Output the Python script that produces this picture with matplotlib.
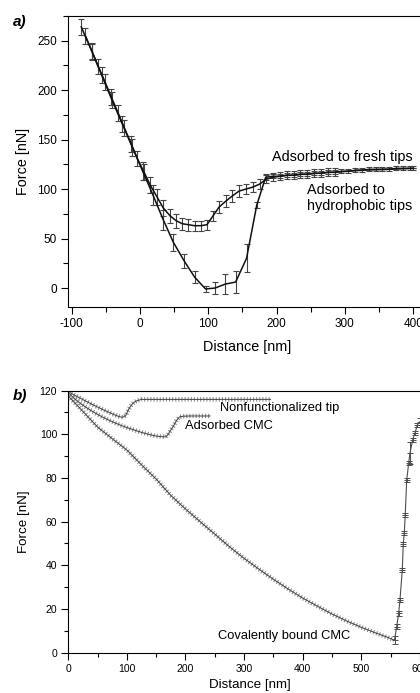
import matplotlib
matplotlib.use('Agg')
import matplotlib.pyplot as plt

plt.rcParams['font.family'] = ['Liberation Sans', 'DejaVu Sans']
plt.rcParams['axes.unicode_minus'] = False

# a) Adsorbed to hydrophobic tips (deep minimum)
hyd_x = [-86, -71, -56, -41, -26, -11, 4, 19, 34, 49, 65, 80, 96, 110, 125, 140, 156, 171, 184,
         195, 205, 215, 225, 235, 245, 255, 265, 275, 285, 295, 305, 315, 325, 335, 345, 355,
         365, 375, 385, 395, 400]
hyd_y = [264, 240, 215, 190, 166, 142, 118, 94, 69, 46, 27, 11, -1, 0, 4, 6, 30, 84, 112,
         113, 113, 114, 114, 115, 115, 116, 116, 117, 117, 118, 118, 119, 119, 120, 120, 120,
         120, 121, 121, 121, 121]
hyd_err = [8, 8, 8, 8, 8, 9, 9, 10, 10, 9, 7, 6, 3, 6, 10, 11, 14, 3, 3,
           2, 2, 2, 2, 2, 2, 2, 2, 2, 2, 2, 2, 2, 2, 2, 2, 2,
           2, 2, 2, 2, 2]

# a) Adsorbed to fresh tips
fresh_x = [-80, -70, -61, -51, -42, -32, -23, -13, -4, 6, 15, 25, 34, 44, 53, 62, 71, 80, 89,
           98, 107, 116, 126, 135, 145, 155, 165, 175, 185, 195, 205, 215, 225, 235, 245, 255,
           265, 275, 285, 320, 360, 400]
fresh_y = [255, 239, 224, 208, 193, 177, 162, 146, 131, 117, 104, 92, 81, 73, 68, 65, 64, 63, 63,
           64, 73, 82, 88, 93, 98, 100, 102, 105, 110, 112, 113, 114, 114, 115, 115, 116,
           116, 117, 117, 119, 120, 121]
fresh_err = [8, 8, 8, 8, 8, 8, 8, 8, 8, 8, 8, 8, 8, 7, 7, 6, 6, 5, 5,
             5, 5, 6, 6, 6, 6, 5, 5, 5, 4, 4, 4, 4, 4, 4, 4, 4,
             4, 4, 4, 0, 0, 0]

# b) Nonfunctionalized tip
nonf_x = [0, 10, 20, 30, 40, 50, 60, 70, 80, 88, 93, 98, 103, 108, 112, 117, 125, 140, 160, 200,
          250, 300, 345]
nonf_y = [119.5, 118, 116.6, 115.2, 113.8, 112.5, 111.2, 110, 108.8, 108, 107.8, 108.6, 111.5,
          113.5, 114.6, 115.4, 116, 116, 116, 116, 116, 116, 116]

# b) Adsorbed CMC
ads_x = [0, 10, 20, 30, 40, 50, 60, 70, 80, 90, 100, 110, 120, 130, 140, 150, 160, 166, 170,
         175, 180, 185, 190, 196, 210, 225, 242]
ads_y = [119, 116.5, 114.3, 112.4, 110.7, 109.1, 107.7, 106.4, 105.2, 104.1, 103.1, 102.2,
         101.3, 100.5, 99.8, 99.2, 98.9, 98.8, 99.8, 102, 104, 106.5, 108, 108.3, 108.4, 108.4,
         108.4]

# b) Covalently bound CMC, approach part
cov_x = [0, 25, 50, 75, 100, 125, 150, 175, 200, 225, 250, 275, 300, 325, 350, 375, 400, 425,
         450, 475, 500, 525, 545, 556]
cov_y = [117.5, 110.5, 103.3, 98, 92.8, 86, 79.5, 72, 65.8, 60, 54.3, 48.5, 43.2, 38.3, 33.6,
         29.2, 25, 21.3, 17.7, 14.5, 11.6, 9, 7, 5.8]

# b) Covalently bound CMC, detachment part
det_x = [556.7, 560.4, 563.8, 566, 570, 571.7, 573.4, 575, 577.5, 580.9, 583, 587.7, 591.6,
         595.6, 600]
det_y = [5.8, 11.9, 18, 24.1, 37.9, 49.8, 54.7, 63, 79, 86.8, 91.3, 97.4, 100.5, 104.3, 105.8]
det_err = [1.8, 1, 1, 1, 1, 1, 1, 1, 1, 1, 5, 1, 1, 1, 1.5]

fig = plt.figure(figsize=(4.2, 6.93), dpi=100)

# ---------- panel a ----------
ax1 = fig.add_axes([0.1626, 0.5570, 0.8537, 0.4203])
ax1.errorbar(hyd_x, hyd_y, yerr=hyd_err, color='#111111', lw=1.1, ecolor='#444444',
             elinewidth=0.8, capsize=2.3, capthick=0.8)
ax1.errorbar(fresh_x, fresh_y, yerr=fresh_err, color='#111111', lw=1.1, ecolor='#444444',
             elinewidth=0.8, capsize=2.3, capthick=0.8)
ax1.set_xlim(-105, 420)
ax1.set_ylim(-19.2, 275.3)
ax1.set_xticks([-100, 0, 100, 200, 300, 400])
ax1.set_xticks([-50, 50, 150, 250, 350], minor=True)
ax1.set_yticks([0, 50, 100, 150, 200, 250])
ax1.set_yticks([25, 75, 125, 175, 225, 275], minor=True)
ax1.tick_params(which='major', direction='out', length=5, width=0.8, labelsize=8.5, pad=3)
ax1.tick_params(which='minor', direction='out', length=3.5, width=0.8)
ax1.set_xlabel('Distance [nm]', fontsize=10.4, labelpad=7)
ax1.set_ylabel('Force [nN]', fontsize=10.4, labelpad=5)
ax1.text(193, 132, 'Adsorbed to fresh tips', fontsize=10.4, va='center', ha='left')
ax1.text(244, 91, 'Adsorbed to\nhydrophobic tips', fontsize=10.4, va='center', ha='left',
         linespacing=1.15)
fig.text(0.031, 0.968, 'a)', fontsize=11, fontweight='bold', fontstyle='italic',
         va='center', ha='left')

# ---------- panel b ----------
ax2 = fig.add_axes([0.1626, 0.0582, 0.865, 0.3781])
for xs, ys in [(nonf_x, nonf_y), (ads_x, ads_y), (cov_x, cov_y)]:
    ax2.plot(xs, ys, color='0.55', lw=3.2, dashes=(0.25, 0.45), solid_capstyle='butt')
    ax2.plot(xs, ys, color='0.25', lw=0.7)
ax2.errorbar(det_x, det_y, yerr=det_err, color='0.3', lw=0.8, ecolor='0.3',
             elinewidth=0.7, capsize=2.2, capthick=0.7)
ax2.plot(det_x, det_y, ls='none', marker='_', ms=5, mew=0.7, color='0.3')
ax2.set_xlim(0, 620)
ax2.set_ylim(0, 120)
ax2.set_xticks([0, 100, 200, 300, 400, 500, 600])
ax2.set_xticks([50, 150, 250, 350, 450, 550], minor=True)
ax2.set_yticks([0, 20, 40, 60, 80, 100, 120])
ax2.set_yticks([10, 30, 50, 70, 90, 110], minor=True)
ax2.tick_params(which='major', direction='out', length=5, width=0.8, labelsize=7.5, pad=3)
ax2.tick_params(which='minor', direction='out', length=3, width=0.8)
ax2.set_xlabel('Distance [nm]', fontsize=9.6, labelpad=4)
ax2.set_ylabel('Force [nN]', fontsize=9.6, labelpad=7)
ax2.text(259, 112, 'Nonfunctionalized tip', fontsize=9.3, va='center', ha='left')
ax2.text(200, 103.9, 'Adsorbed CMC', fontsize=9.3, va='center', ha='left')
ax2.text(256, 7.6, 'Covalently bound CMC', fontsize=9.3, va='center', ha='left')
fig.text(0.031, 0.428, 'b)', fontsize=11, fontweight='bold', fontstyle='italic',
         va='center', ha='left')

fig.savefig('out.png', dpi=100)
